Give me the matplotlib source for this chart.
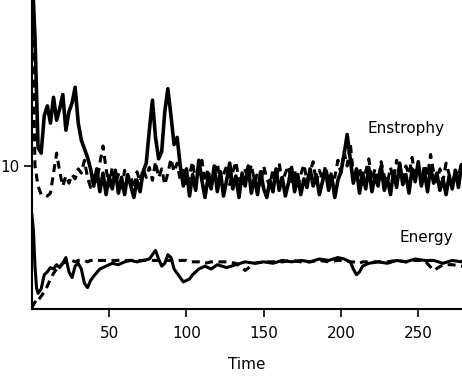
import numpy as np
import matplotlib
matplotlib.use("Agg")
import matplotlib.pyplot as plt

# enstrophy series, sampled every 2 time units (0..280)
ens_time = np.arange(0, 282, 2)
ens_solid = [24, 19, 11.3, 10.9, 13.5, 14.2, 13.0, 14.8, 13.2, 14.0,
             15.0, 12.5, 13.8, 14.4, 15.5, 13.0, 11.8, 11.2, 10.6, 9.8,
             8.6, 9.8, 8.2, 9.5, 8.0, 9.3, 8.4, 9.7, 8.1, 9.2,
             8.0, 9.4, 8.6, 7.8, 9.0, 8.2, 9.6, 10.2, 12.5, 14.6,
             12.0, 10.5, 11.0, 13.8, 15.4, 13.5, 11.5, 12.0, 10.0, 8.6,
             9.8, 7.9, 9.4, 8.3, 10.4, 9.0, 7.8, 9.2, 8.4, 10.0,
             8.2, 9.6, 7.9, 9.0, 10.2, 8.4, 9.3, 7.8, 9.5, 8.6,
             10.0, 8.1, 9.2, 8.0, 9.6, 8.4, 7.8, 9.0, 8.2, 9.8,
             8.3, 9.2, 7.9, 8.8, 9.9, 8.2, 9.4, 8.0, 9.1, 8.5,
             9.8, 8.6, 9.4, 8.0, 8.9, 9.7, 8.3, 9.3, 7.8, 9.0,
             9.6, 10.8, 12.2, 10.5, 8.8, 9.8, 8.1, 9.5, 8.4, 9.9,
             8.2, 9.3, 8.6, 10.0, 8.3, 9.1, 8.0, 9.6, 8.5, 10.2,
             8.7, 9.4, 8.1, 9.8, 8.9, 10.3, 8.6, 9.6, 8.2, 9.9,
             8.8, 9.5, 8.3, 9.1, 8.0, 9.3, 8.4, 9.7, 8.5, 10.1,
             9.4]
ens_dashed = [24, 10.0, 8.6, 8.0, 8.0, 7.9, 8.1, 9.5, 10.9, 9.6,
              8.6, 9.3, 8.8, 9.4, 9.1, 9.8, 9.5, 10.4, 9.2, 8.5,
              9.6, 8.9, 10.2, 11.4, 9.8, 8.6, 9.9, 8.8, 9.4, 8.2,
              9.7, 8.9, 9.3, 8.4, 9.6, 8.9, 9.8, 9.2, 9.9, 9.0,
              10.3, 9.2, 9.8, 8.7, 9.5, 10.5, 9.6, 10.2, 9.0, 9.7,
              8.5, 9.4, 10.3, 8.8, 9.6, 10.4, 8.9, 9.8, 8.6, 9.5,
              10.2, 8.8, 9.4, 10.0, 8.7, 9.6, 10.3, 9.0, 8.5, 9.7,
              9.2, 10.1, 8.9, 9.5, 8.7, 10.0, 9.1, 8.6, 9.8, 9.0,
              10.2, 8.8, 9.5, 10.0, 8.9, 9.7, 8.6, 9.4, 10.1, 9.0,
              9.6, 10.3, 8.8, 9.7, 9.1, 10.0, 8.9, 9.6, 9.2, 10.4,
              9.5, 11.0, 10.0, 11.6, 9.4, 8.9, 9.9, 8.7, 9.6, 10.5,
              9.0, 9.8, 8.9, 10.3, 9.3, 8.8, 9.9, 9.1, 10.4, 9.2,
              8.9, 10.0, 9.4, 10.6, 9.2, 9.8, 8.8, 10.1, 9.3, 10.8,
              9.5, 8.9, 9.8, 9.0, 10.2, 9.4, 8.8, 9.7, 9.2, 10.3,
              9.6]

# energy series
en_time = [0, 1, 2, 3, 4, 6, 8, 10, 12, 14, 16, 18, 20, 22, 24, 26, 28, 30,
           32, 34, 36, 38, 40, 44, 48, 52, 56, 60, 64, 68, 72, 76, 80, 82,
           84, 86, 88, 90, 92, 94, 96, 98, 100, 102, 104, 108, 112, 116,
           120, 126, 132, 138, 144, 150, 156, 162, 168, 174, 180, 186, 192,
           198, 202, 206, 208, 210, 212, 214, 218, 224, 230, 236, 242, 248,
           254, 260, 266, 272, 278, 280]
en_solid = [6.6, 5.5, 3.0, 1.5, 1.1, 1.4, 2.4, 2.6, 2.9, 2.8, 3.1, 2.9, 3.2,
            3.6, 2.6, 2.2, 3.0, 3.2, 2.8, 1.8, 1.5, 2.0, 2.3, 2.8, 3.0, 3.2,
            3.1, 3.3, 3.4, 3.3, 3.4, 3.5, 4.1, 3.5, 3.0, 3.2, 3.8, 3.6, 2.8,
            2.5, 2.2, 1.9, 2.0, 2.1, 2.4, 2.8, 3.0, 2.8, 3.1, 2.9, 3.1, 3.3,
            3.2, 3.3, 3.2, 3.4, 3.3, 3.4, 3.3, 3.5, 3.4, 3.6, 3.5, 3.3, 2.8,
            2.4, 2.6, 3.0, 3.2, 3.3, 3.2, 3.4, 3.3, 3.5, 3.4, 3.4, 3.2, 3.4,
            3.3, 3.5]
en_dashed = [0.1, 0.3, 0.5, 0.4, 0.6, 0.9, 1.2, 1.6, 2.1, 2.5, 2.8, 3.0, 3.2,
             3.3, 3.3, 3.4, 3.3, 3.4, 3.4, 3.4, 3.3, 3.4, 3.4, 3.4, 3.4, 3.4,
             3.4, 3.4, 3.4, 3.4, 3.4, 3.4, 3.4, 3.4, 3.4, 3.4, 3.4, 3.4, 3.4,
             3.4, 3.4, 3.4, 3.4, 3.3, 3.3, 3.3, 3.2, 3.3, 3.3, 3.3, 3.2, 2.7,
             3.2, 3.3, 3.3, 3.3, 3.4, 3.3, 3.3, 3.4, 3.3, 3.4, 3.4, 3.3, 3.3,
             3.2, 3.2, 3.3, 3.3, 3.3, 3.3, 3.4, 3.3, 3.4, 3.4, 2.7, 3.1, 3.1,
             3.0, 3.0]

xticks = [50, 100, 150, 200, 250]
yticks = [10]

fig = plt.figure(figsize=(4.62, 3.76), dpi=100)
ax = fig.add_axes([0.069, 0.178, 0.931, 0.822])

dash = (0, (2.6, 1.8))
ax.plot(ens_time, ens_solid, color="black", lw=2.6, solid_joinstyle="round")
ax.plot(ens_time, ens_dashed, color="black", lw=2.2, linestyle=dash)
ax.plot(en_time, en_solid, color="black", lw=2.2, solid_joinstyle="round")
ax.plot(en_time, en_dashed, color="black", lw=2.2, linestyle=dash)

ax.text(242, 12.6, "Enstrophy", fontsize=11, ha="center", va="center")
ax.text(255, 5.0, "Energy", fontsize=11, ha="center", va="center")

ax.set_xlim(0, 278.3)
ax.set_ylim(0, 21.6)
ax.set_xticks(xticks)
ax.set_yticks(yticks)
ax.tick_params(direction="out", length=6, width=1.2, labelsize=11)
ax.tick_params(axis="x", pad=6)
ax.tick_params(axis="y", pad=3)
ax.set_xlabel("Time", fontsize=11, labelpad=12)

for side in ["top", "right"]:
    ax.spines[side].set_visible(False)
for side in ["left", "bottom"]:
    ax.spines[side].set_linewidth(1.5)

fig.savefig("out.png", dpi=100)
